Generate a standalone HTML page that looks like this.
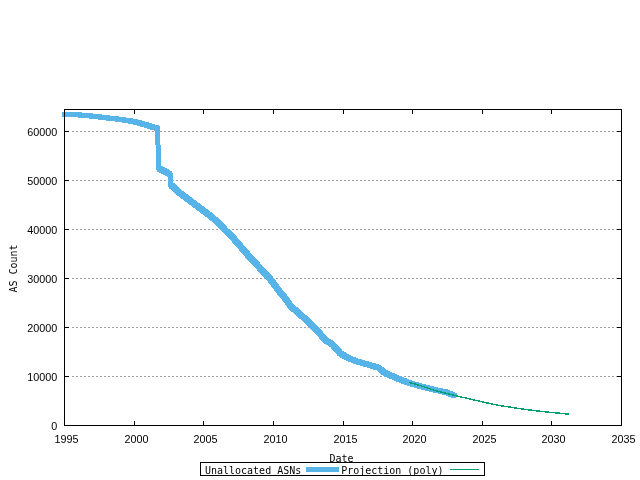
<!DOCTYPE html>
<html><head><meta charset="utf-8"><title>Unallocated ASNs</title>
<style>
html,body{margin:0;padding:0;background:#fff;overflow:hidden}
svg{display:block}
text{fill:#000}
.n{font-family:"Liberation Sans",sans-serif;font-size:10.8px}
.t{font-family:"DejaVu Sans Mono","Liberation Mono",monospace;font-size:10px}
</style></head><body>
<svg width="640" height="480" viewBox="0 0 640 480">
<rect width="640" height="480" fill="#fff"/>
<g stroke="#a0a0a0" stroke-width="1" stroke-dasharray="2 2" shape-rendering="crispEdges">
<line x1="72" y1="376.5" x2="617" y2="376.5"/>
<line x1="72" y1="327.5" x2="617" y2="327.5"/>
<line x1="72" y1="278.5" x2="617" y2="278.5"/>
<line x1="72" y1="229.5" x2="617" y2="229.5"/>
<line x1="72" y1="180.5" x2="617" y2="180.5"/>
<line x1="72" y1="131.5" x2="617" y2="131.5"/>
</g>
<polyline points="64.5,114.5 75,114.5 80,115 91,116 100,117 108,118 117,119 124,120 131,121.1 137,122.4 145,124.6 151,126.4 157.6,128.5 158.6,168.3 170.6,174.5 170.6,185.3 172.5,186.25 180,193.1 187.5,198.75 195,204.4 202.5,210 210,215.6 217.5,221.9 225,230 232.5,237.2 242.5,248.75 251.25,258.75 260,268.1 269.4,278.1 278.75,290.6 285,298.1 291.25,306.9 297.5,311.9 306.25,320 315,328.1 320,333.75 325,340 332.5,344.4 337.5,350 340,353.2 344,355.6 347.5,357.6 356.25,361.25 367.5,364.4 378.75,367.75 385,373.1 392.5,376.25 401.25,380 410,383.1 420,386.1 430,388.7 440,391 446.9,392.5 451.25,394.4 454.4,395.1" fill="none" stroke="#56b4e9" stroke-width="5" stroke-linecap="square" stroke-linejoin="miter" shape-rendering="crispEdges"/>
<polygon points="74.73,117.19 79.74,117.68 90.73,118.69 99.68,119.72 107.68,120.72 116.65,121.73 123.58,122.77 130.47,123.92 136.29,125.31 144.15,127.56 150.08,129.38 156.65,131.49 158.55,125.51 151.92,123.42 145.85,121.64 137.71,119.49 131.53,118.28 124.42,117.23 117.35,116.27 108.32,115.28 100.32,114.28 91.27,113.31 80.26,112.32 75.27,111.81" fill="#56b4e9" shape-rendering="crispEdges"/>
<polygon points="156.99,171.41 168.99,177.61 172.21,171.39 160.21,165.19" fill="#56b4e9" shape-rendering="crispEdges"/>
<polygon points="169.03,188.43 170.52,189.13 177.76,195.79 185.39,201.55 192.90,207.20 200.41,212.80 207.83,218.34 215.09,224.43 222.50,232.45 229.96,239.61 239.86,251.05 248.65,261.10 257.45,270.49 266.72,280.35 276.00,292.77 282.23,300.24 288.71,309.30 295.22,314.55 303.87,322.57 312.50,330.55 317.32,336.00 322.71,342.65 330.28,347.11 334.81,352.24 337.68,355.82 342.23,358.62 345.99,360.67 355.20,364.27 366.65,367.36 377.17,370.65 383.20,376.01 391.19,379.33 400.05,383.06 409.02,386.10 419.18,389.05 429.29,391.60 439.36,393.88 445.93,395.50 450.27,397.40 453.76,397.97 455.04,392.23 452.23,391.40 447.87,389.50 440.64,388.12 430.71,385.80 420.82,383.15 410.98,380.10 402.45,376.94 393.81,373.17 386.80,370.19 380.33,364.85 368.35,361.44 357.30,358.23 349.01,354.53 345.77,352.58 342.32,350.58 340.19,347.76 334.72,341.69 327.29,337.35 322.68,331.50 317.50,325.65 308.63,317.43 299.78,309.25 293.79,304.50 287.77,295.96 281.50,288.43 272.08,275.85 262.55,265.71 253.85,256.40 245.14,246.45 235.04,234.79 227.50,227.55 219.91,219.37 212.17,212.86 204.59,207.20 197.10,201.60 189.61,195.95 182.24,190.41 174.48,183.37 172.17,182.17" fill="#56b4e9" shape-rendering="crispEdges"/>
<polyline points="409,382.4 420,385.5 432.5,389.75 445,393.1 456.9,396 470,399 482.5,401.9 500,405.7 506,406.5 512.5,407.5 519,408.5 526,409.5 534,410.5 542,411.5 552,412.5 562.5,413.5 569.5,414.3" fill="none" stroke="#009e73" stroke-width="1.45" shape-rendering="crispEdges"/>
<g stroke="#000" stroke-width="1" fill="none" shape-rendering="crispEdges">
<rect x="64.5" y="109.5" width="557" height="316"/>
<line x1="134.5" y1="421" x2="134.5" y2="425"/><line x1="134.5" y1="110" x2="134.5" y2="114"/>
<line x1="203.5" y1="421" x2="203.5" y2="425"/><line x1="203.5" y1="110" x2="203.5" y2="114"/>
<line x1="273.5" y1="421" x2="273.5" y2="425"/><line x1="273.5" y1="110" x2="273.5" y2="114"/>
<line x1="343.5" y1="421" x2="343.5" y2="425"/><line x1="343.5" y1="110" x2="343.5" y2="114"/>
<line x1="412.5" y1="421" x2="412.5" y2="425"/><line x1="412.5" y1="110" x2="412.5" y2="114"/>
<line x1="482.5" y1="421" x2="482.5" y2="425"/><line x1="482.5" y1="110" x2="482.5" y2="114"/>
<line x1="551.5" y1="421" x2="551.5" y2="425"/><line x1="551.5" y1="110" x2="551.5" y2="114"/>
<line x1="65" y1="376.5" x2="69" y2="376.5"/><line x1="617" y1="376.5" x2="621" y2="376.5"/>
<line x1="65" y1="327.5" x2="69" y2="327.5"/><line x1="617" y1="327.5" x2="621" y2="327.5"/>
<line x1="65" y1="278.5" x2="69" y2="278.5"/><line x1="617" y1="278.5" x2="621" y2="278.5"/>
<line x1="65" y1="229.5" x2="69" y2="229.5"/><line x1="617" y1="229.5" x2="621" y2="229.5"/>
<line x1="65" y1="180.5" x2="69" y2="180.5"/><line x1="617" y1="180.5" x2="621" y2="180.5"/>
<line x1="65" y1="131.5" x2="69" y2="131.5"/><line x1="617" y1="131.5" x2="621" y2="131.5"/>
</g>
<text class="n" transform="translate(66.5,443.1) scale(1,1.05)" text-anchor="middle">1995</text>
<text class="n" transform="translate(136.5,443.1) scale(1,1.05)" text-anchor="middle">2000</text>
<text class="n" transform="translate(205.5,443.1) scale(1,1.05)" text-anchor="middle">2005</text>
<text class="n" transform="translate(275.5,443.1) scale(1,1.05)" text-anchor="middle">2010</text>
<text class="n" transform="translate(345.5,443.1) scale(1,1.05)" text-anchor="middle">2015</text>
<text class="n" transform="translate(414.5,443.1) scale(1,1.05)" text-anchor="middle">2020</text>
<text class="n" transform="translate(484.5,443.1) scale(1,1.05)" text-anchor="middle">2025</text>
<text class="n" transform="translate(553.5,443.1) scale(1,1.05)" text-anchor="middle">2030</text>
<text class="n" transform="translate(623.5,443.1) scale(1,1.05)" text-anchor="middle">2035</text>
<text class="n" transform="translate(57.2,430.2) scale(1,1.05)" text-anchor="end">0</text>
<text class="n" transform="translate(57.2,381.2) scale(1,1.05)" text-anchor="end">10000</text>
<text class="n" transform="translate(57.2,332.2) scale(1,1.05)" text-anchor="end">20000</text>
<text class="n" transform="translate(57.2,283.2) scale(1,1.05)" text-anchor="end">30000</text>
<text class="n" transform="translate(57.2,234.2) scale(1,1.05)" text-anchor="end">40000</text>
<text class="n" transform="translate(57.2,185.2) scale(1,1.05)" text-anchor="end">50000</text>
<text class="n" transform="translate(57.2,136.2) scale(1,1.05)" text-anchor="end">60000</text>
<text class="t" transform="translate(16.6,268.5) rotate(-90) scale(1,1.1)" text-anchor="middle">AS Count</text>
<text class="t" transform="translate(341.5,462.3) scale(1,1.1)" text-anchor="middle">Date</text>
<rect x="200.5" y="462.5" width="284" height="13" fill="#fff" stroke="#000" stroke-width="1" shape-rendering="crispEdges"/>
<text class="t" transform="translate(205,474.3) scale(1,1.1)" text-anchor="start">Unallocated ASNs</text>
<line x1="306" y1="469.5" x2="339" y2="469.5" stroke="#56b4e9" stroke-width="5" shape-rendering="crispEdges"/>
<text class="t" transform="translate(341.2,474.3) scale(1,1.1)" text-anchor="start">Projection (poly)</text>
<line x1="450" y1="469.5" x2="479" y2="469.5" stroke="#009e73" stroke-width="1" shape-rendering="crispEdges"/>
</svg>
</body></html>
